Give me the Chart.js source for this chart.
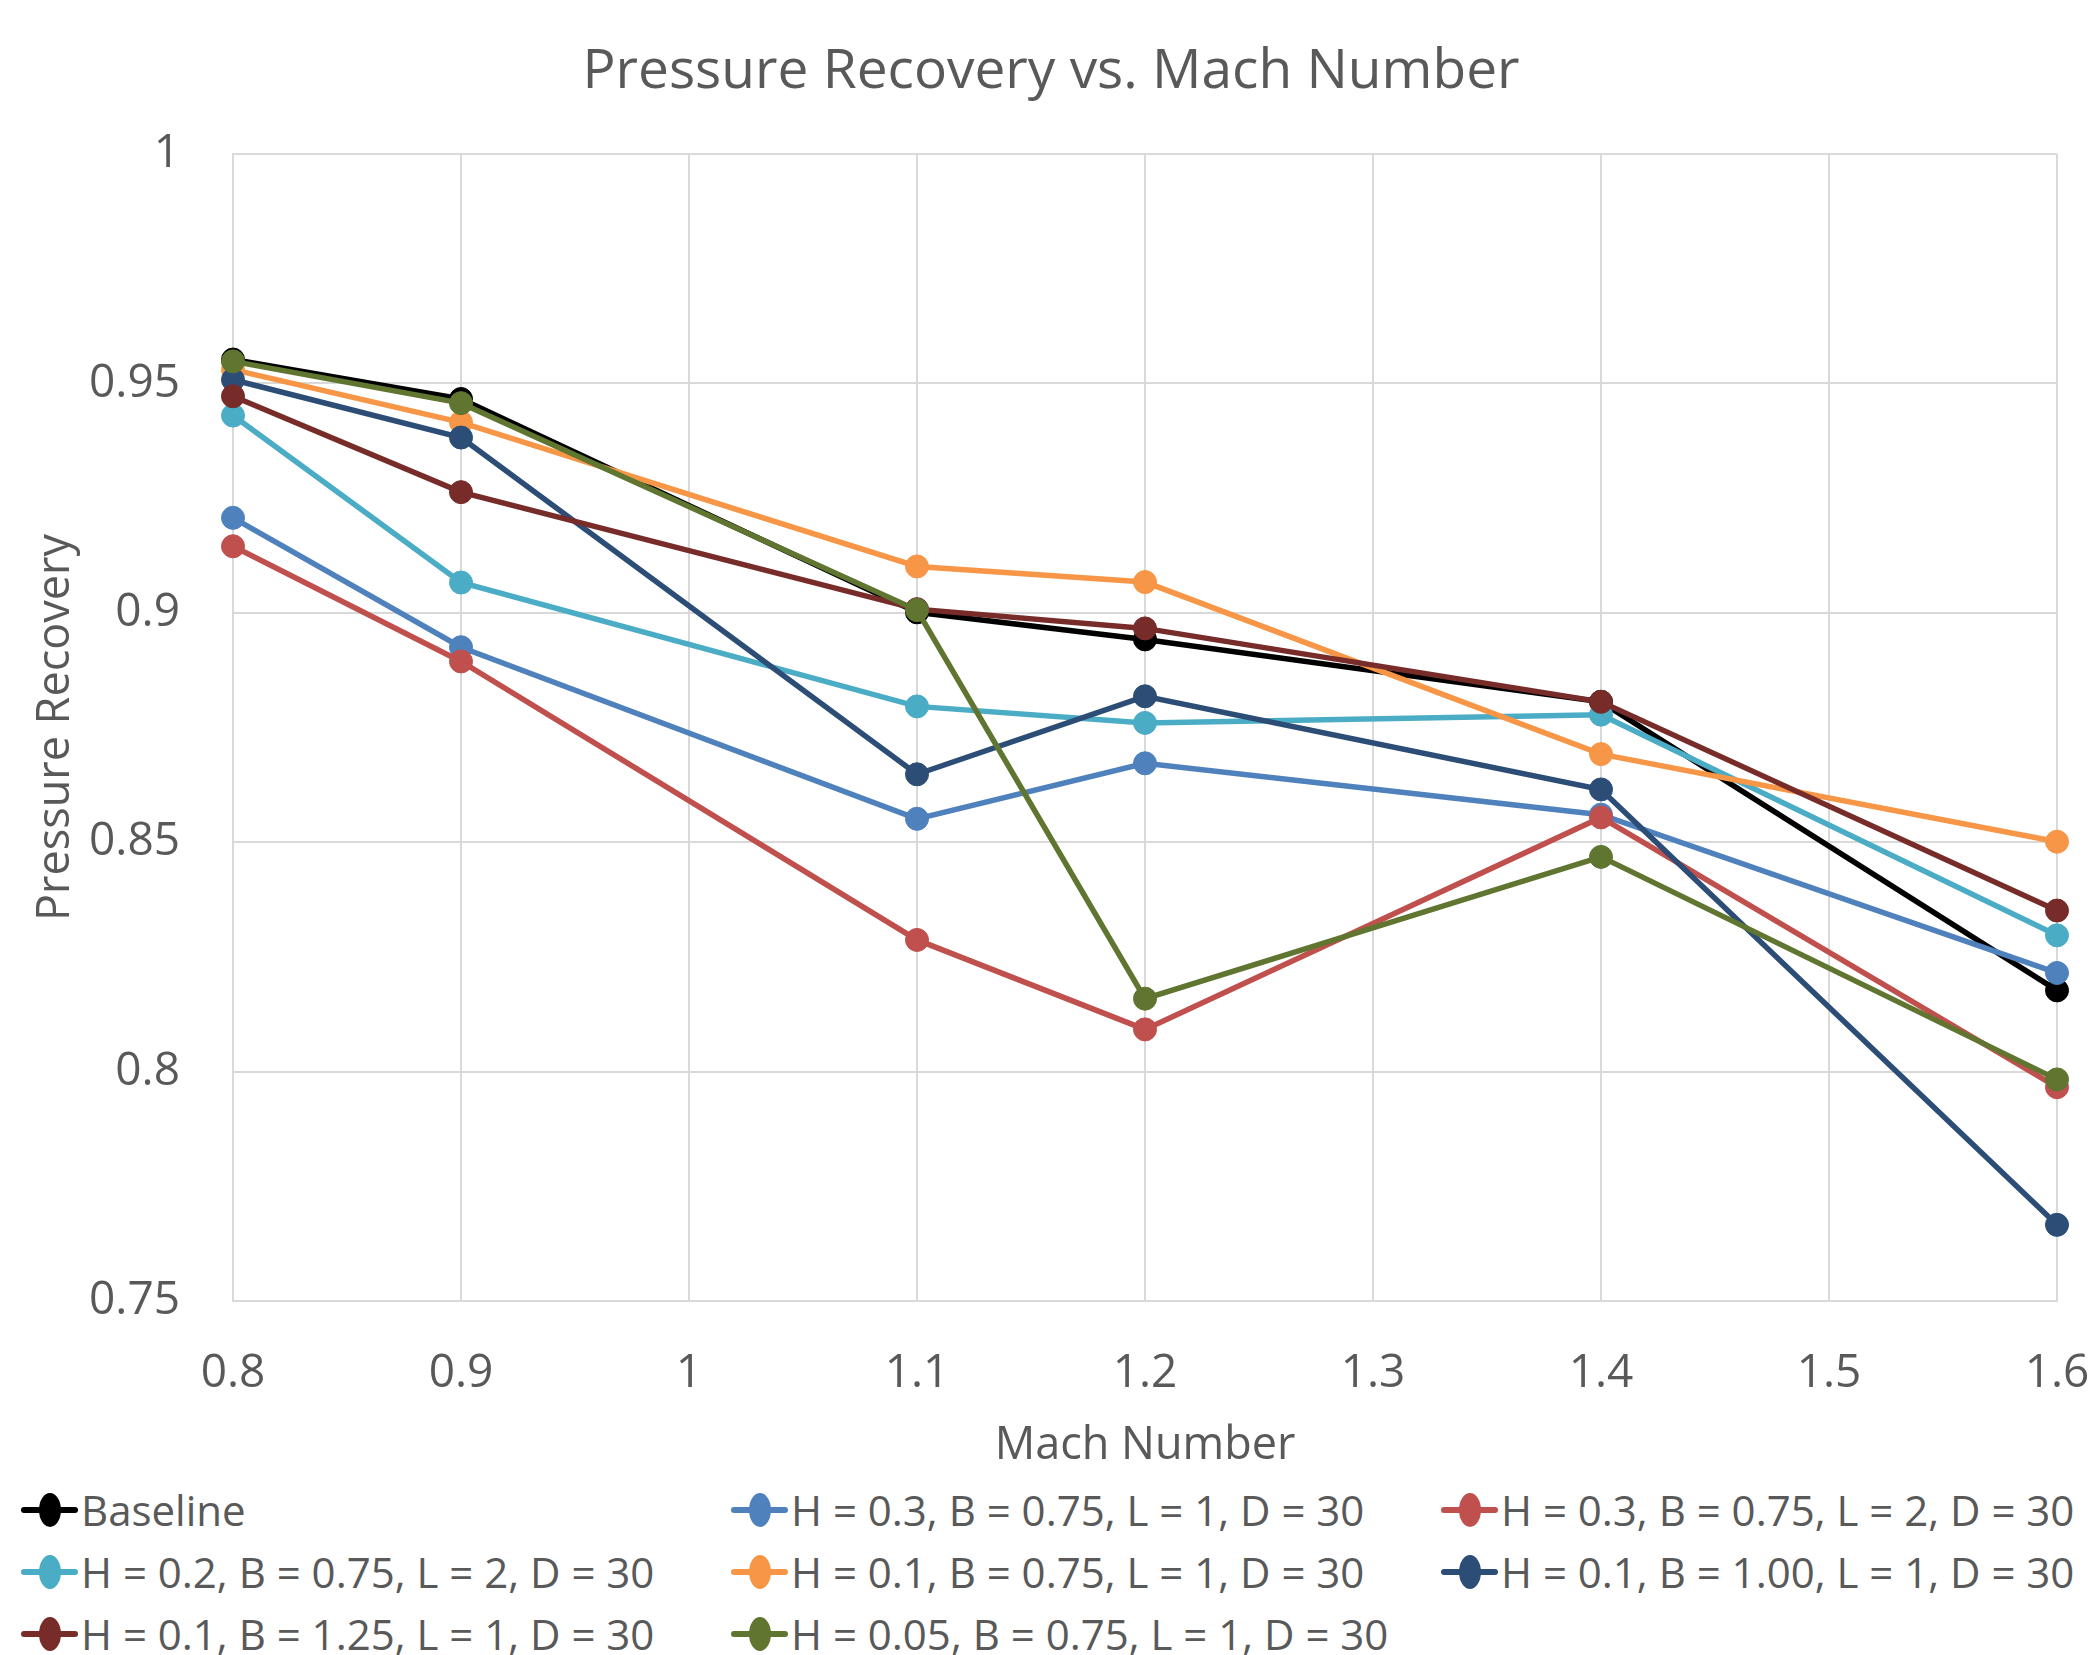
<!DOCTYPE html>
<html>
<head>
<meta charset="utf-8">
<script src="https://cdn.jsdelivr.net/npm/chart.js"></script>
<style>
    body { margin: 0; background: #fff; width: 2088px; height: 1655px; overflow: hidden; }
    #wrap { position: relative; width: 2088px; height: 1479px; }
    #legend {
        display: grid;
        grid-template-columns: 710px 710px 668px;
        padding-left: 21px;
        font-family: "Open Sans", sans-serif;
        font-size: 42px;
        line-height: 62px;
        color: #595959;
        white-space: nowrap;
    }
    .item { display: flex; align-items: center; height: 62px; }
    .mark { position: relative; width: 57px; height: 62px; margin-right: 3px; flex: none; }
    .mark .ln { position: absolute; left: 0; right: 0; top: 28px; height: 6px; border-radius: 3px; }
    .mark .dot { position: absolute; left: 18px; top: 14px; width: 22px; height: 34px; border-radius: 50%; }
</style>
</head>
<body>
<div id="wrap"><canvas id="myChart"></canvas></div>
<div id="legend"></div>
<script>
// ===================== Pressure Recovery vs. Mach Number =====================
var machNumbers = [0.8, 0.9, 1.1, 1.2, 1.4, 1.6];

var baseline    = [0.9552, 0.9466, 0.9001, 0.8942, 0.8806, 0.8177];
var h03b075l1   = [0.9207, 0.8925, 0.8551, 0.8672, 0.8560, 0.8215];
var h03b075l2   = [0.9145, 0.8894, 0.8287, 0.8092, 0.8554, 0.7966];
var h02b075l2   = [0.9430, 0.9066, 0.8796, 0.8760, 0.8778, 0.8297];
var h01b075l1   = [0.9530, 0.9415, 0.9101, 0.9067, 0.8692, 0.8501];
var h01b100l1   = [0.9508, 0.9382, 0.8648, 0.8818, 0.8615, 0.7666];
var h01b125l1   = [0.9472, 0.9263, 0.9008, 0.8966, 0.8806, 0.8351];
var h005b075l1  = [0.9548, 0.9457, 0.9006, 0.8159, 0.8468, 0.7983];

var seriesNames = [
    "Baseline",
    "H = 0.3, B = 0.75, L = 1, D = 30",
    "H = 0.3, B = 0.75, L = 2, D = 30",
    "H = 0.2, B = 0.75, L = 2, D = 30",
    "H = 0.1, B = 0.75, L = 1, D = 30",
    "H = 0.1, B = 1.00, L = 1, D = 30",
    "H = 0.1, B = 1.25, L = 1, D = 30",
    "H = 0.05, B = 0.75, L = 1, D = 30"
];
var seriesValues = [baseline, h03b075l1, h03b075l2, h02b075l2, h01b075l1, h01b100l1, h01b125l1, h005b075l1];
var seriesColors = ["#000000", "#4F81BD", "#C0504D", "#4BACC6", "#F79646", "#2C4D75", "#772C2A", "#5F7530"];

var xTicks = [0.8, 0.9, 1, 1.1, 1.2, 1.3, 1.4, 1.5, 1.6];
var yTicks = [0.75, 0.8, 0.85, 0.9, 0.95, 1];

var textColor = "#595959";
var gridColor = "#D9D9D9";
var fontName = "'Open Sans', sans-serif";

var datasets = seriesNames.map(function (name, i) {
    return {
        label: name,
        data: seriesValues[i].map(function (v, j) { return { x: machNumbers[j], y: v }; }),
        borderColor: seriesColors[i],
        backgroundColor: seriesColors[i],
        pointBackgroundColor: seriesColors[i],
        pointBorderColor: seriesColors[i],
        borderWidth: 5.5,
        pointRadius: 11.5,
        pointBorderWidth: 1,
        tension: 0,
        clip: false,
        order: seriesNames.length - i // later series drawn on top, like excel
    };
});

new Chart(document.getElementById("myChart"), {
    type: "line",
    data: { datasets: datasets },
    options: {
        responsive: true,
        maintainAspectRatio: false,
        animation: false,
        // left pad shifts the title centre to where excel put it
        layout: { padding: { left: 45, right: 31, top: 0, bottom: 0 } },
        plugins: {
            legend: { display: false },
            tooltip: { enabled: false },
            title: {
                display: true,
                text: "Pressure Recovery vs. Mach Number",
                color: textColor,
                font: { family: fontName, size: 55, weight: "normal" },
                padding: { top: 39, bottom: 49 }
            }
        },
        scales: {
            x: {
                type: "linear",
                min: 0.8,
                max: 1.6,
                afterBuildTicks: function (scale) {
                    scale.ticks = xTicks.map(function (v) { return { value: v }; });
                },
                afterFit: function (scale) {
                    scale.height = 178;
                    scale.paddingLeft = 0;
                    scale.paddingRight = 0;
                },
                ticks: {
                    color: textColor,
                    font: { family: fontName, size: 46 },
                    padding: 45,
                    maxRotation: 0,
                    autoSkip: false,
                    callback: function (v) { return String(Math.round(v * 10) / 10); }
                },
                grid: { color: gridColor, lineWidth: 2, drawTicks: false },
                border: { color: gridColor, width: 2 },
                title: {
                    display: true,
                    text: "Mach Number",
                    color: textColor,
                    font: { family: fontName, size: 45 },
                    padding: { top: 0, bottom: 6 }
                }
            },
            y: {
                min: 0.75,
                max: 1,
                afterBuildTicks: function (scale) {
                    scale.ticks = yTicks.map(function (v) { return { value: v }; });
                },
                afterFit: function (scale) {
                    scale.width = 188;
                    scale.paddingTop = 0;
                    scale.paddingBottom = 0;
                },
                ticks: {
                    color: textColor,
                    font: { family: fontName, size: 46 },
                    padding: 53,
                    callback: function (v) { return String(Math.round(v * 100) / 100); }
                },
                grid: { color: gridColor, lineWidth: 2, drawTicks: false },
                border: { color: gridColor, width: 2 },
                title: {
                    display: true,
                    text: "Pressure Recovery",
                    color: textColor,
                    font: { family: fontName, size: 45 },
                    padding: { top: -16, bottom: 0 }
                }
            }
        }
    }
});

// legend in excel's 3 column grid
var legend = document.getElementById("legend");
seriesNames.forEach(function (name, i) {
    var item = document.createElement("div");
    item.className = "item";
    item.innerHTML = '<span class="mark"><span class="ln" style="background:' + seriesColors[i] +
        '"></span><span class="dot" style="background:' + seriesColors[i] + '"></span></span>' +
        '<span class="txt"></span>';
    item.querySelector(".txt").textContent = name;
    legend.appendChild(item);
});
</script>
</body>
</html>
